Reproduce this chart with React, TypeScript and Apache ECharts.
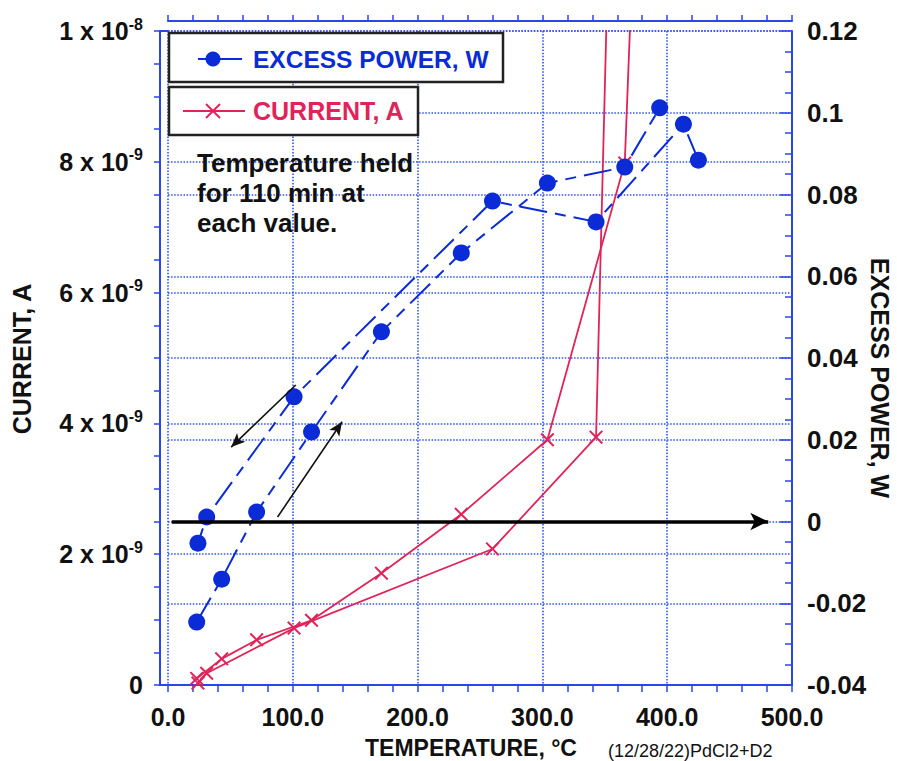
import React, { useEffect, useRef } from 'react';
import * as echarts from 'echarts';

// ---- data ----
// Excess power (W), heating branch
const powerHeatT = [23, 43, 71, 115, 171, 235, 304, 366, 394];
const powerHeatW = [-0.0246, -0.0141, 0.0023, 0.0219, 0.0464, 0.0657, 0.0828, 0.0867, 0.1012];
// Excess power (W), cooling branch
const powerCoolT = [425, 413, 343, 260, 101, 31, 24];
const powerCoolW = [0.0884, 0.0972, 0.0733, 0.0784, 0.0305, 0.0011, -0.0053];
// Current (A), heating branch
const currentHeatT = [23, 43, 71, 115, 171, 235, 304, 366, 394];
const currentHeatA = [0.1e-9, 0.4e-9, 0.69e-9, 0.99e-9, 1.71e-9, 2.61e-9, 3.75e-9, 7.98e-9, 21.8e-9];
// Current (A), cooling branch
const currentCoolT = [413, 343, 260, 101, 31, 24];
const currentCoolA = [57e-9, 3.79e-9, 2.08e-9, 0.87e-9, 0.18e-9, 0.03e-9];

// tick labels of the current axis: mantissa and exponent
const currentTickValues = [0, 2e-9, 4e-9, 6e-9, 8e-9, 1e-8];
const currentTickMantissa = ['0', '2 x 10', '4 x 10', '6 x 10', '8 x 10', '1 x 10'];
const currentTickExponent = ['', '-9', '-9', '-9', '-9', '-8'];

// annotation arrows (temperature, W)
const zeroArrow = [[3, 0], [481, 0]];
const coolArrow = [[102.4, 0.0334], [50.6, 0.0182]];
const heatArrow = [[87.8, 0.0011], [139.5, 0.0244]];

const BLUE = '#0a2bd6';
const RED = '#e0245a';
const AXIS = '#2a45e8';
const GRID = '#2f52ee';
const FONT = '"Liberation Sans", Arial, Helvetica, sans-serif';
const XSYM = 'path://M1,0 L5,4 L9,0 L10,1 L6,5 L10,9 L9,10 L5,6 L1,10 L0,9 L4,5 L0,1 Z';

const zip = (a: number[], b: number[]) => a.map((v, i) => [v, b[i]]);

export default function App() {
  const ref = useRef<HTMLDivElement>(null);
  useEffect(() => {
    if (!ref.current) return;
    const chart = echarts.init(ref.current, undefined, { renderer: 'svg' });
    const gridLine = { show: true, lineStyle: { color: GRID, width: 1.6, type: [1.5, 1.6] as any } };
    const powerLine = {
      type: 'line', xAxisIndex: 0, yAxisIndex: 1, symbol: 'circle', symbolSize: 17,
      itemStyle: { color: BLUE }, lineStyle: { color: BLUE, width: 2, type: [28, 8, 11, 8] as any },
      z: 4,
    };
    const currentLine = {
      type: 'line', xAxisIndex: 0, yAxisIndex: 0, symbol: XSYM, symbolSize: 14, clip: true,
      itemStyle: { color: RED }, lineStyle: { color: RED, width: 1.8 }, z: 3,
    };
    const option: any = {
      animation: false,
      grid: { left: 168, top: 31, width: 624, height: 654, containLabel: false },
      xAxis: [
        {
          type: 'value', position: 'bottom', min: 0, max: 500, interval: 100,
          axisLine: { show: true, onZero: false, lineStyle: { color: AXIS, width: 2 } },
          axisTick: { show: true, length: 7, lineStyle: { color: AXIS, width: 1.5 } },
          minorTick: { show: true, splitNumber: 5, length: 7, lineStyle: { color: AXIS, width: 1.5 } },
          axisLabel: { formatter: (v: number) => v.toFixed(1), fontSize: 25, fontWeight: 'bold', color: '#111', fontFamily: FONT, margin: 19 },
          splitLine: gridLine,
        },
        {
          type: 'value', position: 'top', offset: 10, min: 0, max: 500, interval: 20,
          axisLine: { show: true, onZero: false, lineStyle: { color: AXIS, width: 2 } },
          axisTick: { show: true, length: 6, lineStyle: { color: AXIS, width: 1.5 } },
          axisLabel: { show: false }, splitLine: { show: false },
        },
      ],
      yAxis: [
        {
          type: 'value', position: 'left', offset: 8, min: 0, max: 1e-8, interval: 2e-9,
          axisLine: { show: true, onZero: false, lineStyle: { color: AXIS, width: 2 } },
          axisTick: { show: true, length: 6, lineStyle: { color: AXIS, width: 1.5 } },
          minorTick: { show: true, splitNumber: 4, length: 6, lineStyle: { color: AXIS, width: 1.5 } },
          axisLabel: {
            margin: 17,
            formatter: (v: number) => {
              const i = currentTickValues.findIndex((t) => Math.abs(t - v) < 1e-12);
              if (i < 0) return '';
              return currentTickExponent[i]
                ? `{m|${currentTickMantissa[i]}}{s|${currentTickExponent[i]}}`
                : `{m|${currentTickMantissa[i]}}`;
            },
            rich: {
              m: { fontSize: 25, fontWeight: 'bold', color: '#111', fontFamily: FONT, lineHeight: 30 },
              s: { fontSize: 16, fontWeight: 'bold', color: '#111', fontFamily: FONT, verticalAlign: 'top', lineHeight: 18 },
            },
          },
          splitLine: gridLine,
        },
        {
          type: 'value', position: 'right', min: -0.04, max: 0.12, interval: 0.02,
          axisLine: { show: true, onZero: false, lineStyle: { color: AXIS, width: 2 } },
          axisTick: { show: true, inside: true, length: 12, lineStyle: { color: AXIS, width: 1.5 } },
          minorTick: { show: true, splitNumber: 4, length: 7, lineStyle: { color: AXIS, width: 1.5 } },
          axisLabel: { fontSize: 26, fontWeight: 'bold', color: '#111', fontFamily: FONT, margin: 15 },
          splitLine: gridLine,
        },
      ],
      series: [
        { ...currentLine, name: 'CURRENT heat', data: zip(currentHeatT, currentHeatA) },
        { ...currentLine, name: 'CURRENT cool', data: zip(currentCoolT, currentCoolA) },
        { ...powerLine, name: 'POWER heat', data: zip(powerHeatT, powerHeatW) },
        { ...powerLine, name: 'POWER cool', data: zip(powerCoolT, powerCoolW) },
        {
          type: 'line', xAxisIndex: 0, yAxisIndex: 1, symbol: 'none', data: zeroArrow,
          lineStyle: { opacity: 0 }, silent: true, z: 5,
          markLine: {
            silent: true, symbol: ['none', 'arrow'], symbolSize: [13, 18],
            label: { show: false }, lineStyle: { color: '#000', width: 3.5, type: 'solid' },
            data: [[{ coord: zeroArrow[0] }, { coord: zeroArrow[1] }]],
          },
        },
        {
          type: 'line', xAxisIndex: 0, yAxisIndex: 1, symbol: 'none', data: heatArrow,
          lineStyle: { opacity: 0 }, silent: true, z: 5,
          markLine: {
            silent: true, symbol: ['none', 'arrow'], symbolSize: [9, 14],
            label: { show: false }, lineStyle: { color: '#111', width: 1.6, type: 'solid' },
            data: [
              [{ coord: coolArrow[0] }, { coord: coolArrow[1] }],
              [{ coord: heatArrow[0] }, { coord: heatArrow[1] }],
            ],
          },
        },
      ],
      graphic: [
        { type: 'line', shape: { x1: 160, y1: 31, x2: 168, y2: 31 }, style: { stroke: AXIS, lineWidth: 2 } },
        { type: 'line', shape: { x1: 159, y1: 685, x2: 168, y2: 685 }, style: { stroke: AXIS, lineWidth: 2 } },
        // legend boxes
        { type: 'rect', z: 10, shape: { x: 169, y: 33, width: 334, height: 49 }, style: { fill: '#fff', stroke: '#222', lineWidth: 2.5 } },
        { type: 'line', z: 11, shape: { x1: 198, y1: 59, x2: 242, y2: 59 }, style: { stroke: BLUE, lineWidth: 2 } },
        { type: 'circle', z: 11, shape: { cx: 213, cy: 59, r: 7.5 }, style: { fill: BLUE } },
        { type: 'text', z: 11, x: 253, y: 59, style: { text: 'EXCESS POWER, W', fill: BLUE, font: `bold 24.5px ${FONT}`, textVerticalAlign: 'middle' } },
        { type: 'rect', z: 10, shape: { x: 169, y: 87, width: 249, height: 48 }, style: { fill: '#fff', stroke: '#222', lineWidth: 2.5 } },
        { type: 'line', z: 11, shape: { x1: 183, y1: 111, x2: 245, y2: 111 }, style: { stroke: RED, lineWidth: 1.8 } },
        { type: 'line', z: 11, shape: { x1: 206, y1: 104, x2: 220, y2: 118 }, style: { stroke: RED, lineWidth: 2 } },
        { type: 'line', z: 11, shape: { x1: 220, y1: 104, x2: 206, y2: 118 }, style: { stroke: RED, lineWidth: 2 } },
        { type: 'text', z: 11, x: 253, y: 111, style: { text: 'CURRENT, A', fill: RED, font: `bold 25px ${FONT}`, textVerticalAlign: 'middle' } },
        // annotation
        { type: 'text', z: 11, x: 197, y: 148, style: { text: 'Temperature held\nfor 110 min at\neach value.', fill: '#111', font: `bold 26px ${FONT}`, lineHeight: 30 } },
        // axis names
        { type: 'text', x: 22, y: 359, rotation: Math.PI / 2, style: { text: 'CURRENT, A', fill: '#111', font: `bold 25px ${FONT}`, textAlign: 'center', textVerticalAlign: 'middle' } },
        { type: 'text', x: 880, y: 378, rotation: -Math.PI / 2, style: { text: 'EXCESS POWER, W', fill: '#111', font: `bold 25px ${FONT}`, textAlign: 'center', textVerticalAlign: 'middle' } },
        { type: 'text', x: 471, y: 748, style: { text: 'TEMPERATURE, °C', fill: '#111', font: `bold 23px ${FONT}`, textAlign: 'center', textVerticalAlign: 'middle' } },
        { type: 'text', x: 608, y: 751, style: { text: '(12/28/22)PdCl2+D2', fill: '#111', font: `18px ${FONT}`, textVerticalAlign: 'middle' } },
      ],
    };
    chart.setOption(option);
    return () => chart.dispose();
  }, []);
  return <div ref={ref} style={{ position: 'fixed', left: 0, top: 0, width: 897, height: 761, background: '#fff' }} />;
}
